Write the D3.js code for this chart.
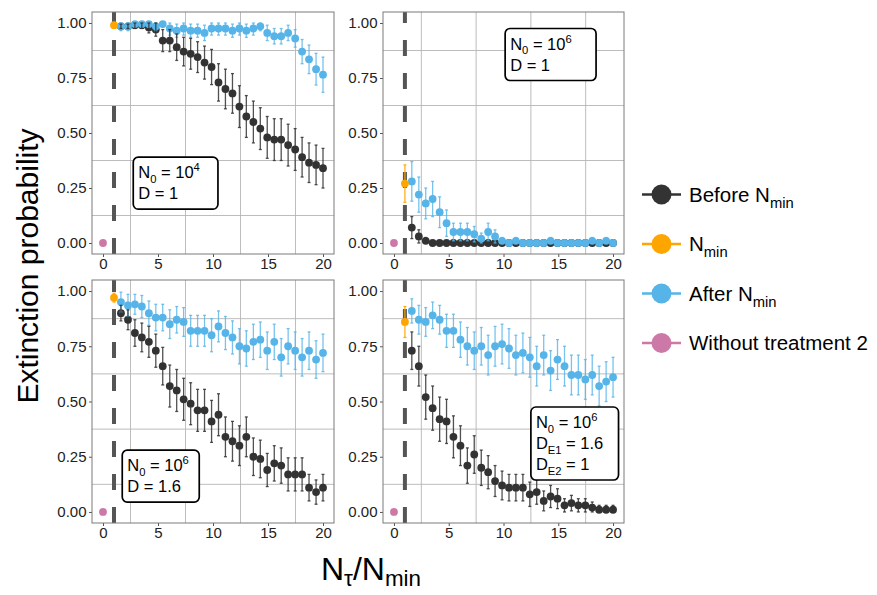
<!DOCTYPE html>
<html>
<head>
<meta charset="utf-8">
<script src="https://cdn.jsdelivr.net/npm/d3@7"></script>
<style>
  body { margin: 0; background: #fff; }
  text { font-family: "Liberation Sans", Arial, sans-serif; }
</style>
</head>
<body>
<svg id="chart" width="877" height="595"></svg>
<script>
// x positions (N_tau / N_min) of the before / after points
const tauRatio = [1.63, 2.27, 2.90, 3.53, 4.17, 4.80, 5.43, 6.07, 6.70, 7.33,
  7.97, 8.60, 9.23, 9.87, 10.50, 11.13, 11.77, 12.40, 13.03, 13.67,
  14.30, 14.93, 15.57, 16.20, 16.83, 17.47, 18.10, 18.73, 19.37, 20.00];
const nminX = 1;
const controlX = 0;
const xTicks = [0, 5, 10, 15, 20];
const yTicks = [0, 0.25, 0.5, 0.75, 1];
const xGrid = [2.5, 7.5, 12.5, 17.5];
const yGrid = [0.125, 0.375, 0.625, 0.875];

// panel 1: N0 = 1e4, D = 1
const p1Before = [0.985, 0.985, 0.99, 0.99, 0.98, 0.97, 0.92, 0.92, 0.89, 0.87, 0.86, 0.845, 0.82, 0.80, 0.73,
  0.70, 0.68, 0.62, 0.575, 0.55, 0.52, 0.48, 0.47, 0.47, 0.445, 0.425, 0.39, 0.365, 0.355, 0.34];
const p1BeforeErr = [0.01, 0.01, 0.015, 0.015, 0.025, 0.03, 0.05, 0.05, 0.06, 0.065, 0.07, 0.07, 0.075, 0.08, 0.085,
  0.09, 0.09, 0.095, 0.095, 0.095, 0.095, 0.095, 0.095, 0.095, 0.095, 0.095, 0.09, 0.09, 0.09, 0.09];
const p1After = [0.985, 0.985, 0.995, 0.995, 0.995, 0.985, 0.995, 0.975, 0.965, 0.975, 0.965, 0.965, 0.955, 0.975, 0.975,
  0.975, 0.965, 0.975, 0.965, 0.975, 0.985, 0.955, 0.94, 0.94, 0.955, 0.93, 0.87, 0.835, 0.79, 0.765];
const p1AfterErr = [0.02, 0.02, 0.015, 0.015, 0.015, 0.02, 0.015, 0.03, 0.03, 0.03, 0.03, 0.03, 0.035, 0.03, 0.03,
  0.03, 0.03, 0.03, 0.03, 0.03, 0.02, 0.035, 0.035, 0.035, 0.035, 0.04, 0.055, 0.065, 0.072, 0.08];

// panel 2: N0 = 1e6, D = 1
const p2Before = [0.07, 0.03, 0.01, 0, 0, 0, 0, 0, 0, 0, 0, 0, 0, 0, 0,
  0, 0, 0, 0, 0, 0, 0, 0, 0, 0, 0, 0, 0, 0, 0];
const p2BeforeErr = [0.05, 0.03, 0.015, 0, 0, 0, 0, 0, 0, 0, 0, 0, 0, 0, 0,
  0, 0, 0, 0, 0, 0, 0, 0, 0, 0, 0, 0, 0, 0, 0];
const p2After = [0.28, 0.22, 0.18, 0.20, 0.14, 0.09, 0.05, 0.05, 0.05, 0.04, 0.02, 0.05, 0.03, 0.01, 0,
  0.01, 0, 0, 0, 0, 0.01, 0, 0, 0, 0, 0, 0.01, 0, 0.01, 0];
const p2AfterErr = [0.09, 0.08, 0.07, 0.08, 0.07, 0.06, 0.04, 0.04, 0.04, 0.035, 0.025, 0.04, 0.03, 0.015, 0,
  0.015, 0, 0, 0, 0, 0.015, 0, 0, 0, 0, 0, 0.015, 0, 0.015, 0];

// panel 3: N0 = 1e6, D = 1.6
const p3Before = [0.90, 0.87, 0.81, 0.79, 0.77, 0.73, 0.66, 0.57, 0.55, 0.51, 0.49, 0.46, 0.46, 0.41, 0.44,
  0.34, 0.32, 0.30, 0.34, 0.25, 0.24, 0.19, 0.22, 0.21, 0.17, 0.17, 0.17, 0.11, 0.09, 0.11];
const p3BeforeErr = [0.035, 0.045, 0.06, 0.065, 0.07, 0.075, 0.085, 0.095, 0.095, 0.095, 0.095, 0.095, 0.095, 0.095, 0.095,
  0.09, 0.09, 0.09, 0.09, 0.085, 0.085, 0.075, 0.08, 0.08, 0.075, 0.075, 0.075, 0.06, 0.055, 0.06];
const p3After = [0.95, 0.935, 0.94, 0.93, 0.90, 0.88, 0.88, 0.85, 0.87, 0.86, 0.82, 0.82, 0.82, 0.80, 0.84,
  0.81, 0.79, 0.75, 0.74, 0.77, 0.78, 0.73, 0.77, 0.70, 0.75, 0.73, 0.70, 0.73, 0.69, 0.72];
const p3AfterErr = [0.045, 0.05, 0.045, 0.05, 0.055, 0.06, 0.06, 0.065, 0.06, 0.065, 0.07, 0.07, 0.07, 0.075, 0.07,
  0.075, 0.075, 0.08, 0.08, 0.08, 0.08, 0.085, 0.08, 0.085, 0.08, 0.085, 0.085, 0.085, 0.085, 0.085];

// panel 4: N0 = 1e6, DE1 = 1.6, DE2 = 1
const p4Before = [0.73, 0.66, 0.52, 0.47, 0.42, 0.41, 0.34, 0.30, 0.21, 0.26, 0.20, 0.18, 0.14, 0.12, 0.11,
  0.11, 0.11, 0.08, 0.09, 0.05, 0.07, 0.06, 0.03, 0.04, 0.03, 0.03, 0.02, 0.01, 0.01, 0.01];
const p4BeforeErr = [0.085, 0.09, 0.1, 0.1, 0.1, 0.1, 0.095, 0.09, 0.08, 0.085, 0.08, 0.075, 0.07, 0.065, 0.06,
  0.06, 0.06, 0.055, 0.055, 0.045, 0.05, 0.045, 0.03, 0.035, 0.03, 0.03, 0.025, 0.02, 0.02, 0.02];
const p4After = [0.91, 0.87, 0.86, 0.89, 0.87, 0.82, 0.82, 0.78, 0.75, 0.73, 0.75, 0.71, 0.75, 0.76, 0.74,
  0.71, 0.72, 0.70, 0.66, 0.71, 0.64, 0.69, 0.66, 0.62, 0.62, 0.60, 0.62, 0.57, 0.59, 0.61];
const p4AfterErr = [0.055, 0.065, 0.065, 0.06, 0.065, 0.075, 0.075, 0.08, 0.085, 0.085, 0.085, 0.09, 0.09, 0.09, 0.09,
  0.09, 0.09, 0.09, 0.09, 0.09, 0.09, 0.09, 0.09, 0.09, 0.09, 0.09, 0.09, 0.09, 0.09, 0.09];

// N_min point and control (no treatment 2) per panel
const nminValues = [0.99, 0.27, 0.97, 0.86];
const nminErrors = [0.01, 0.085, 0.02, 0.07];
const controlValues = [0, 0, 0, 0];

// annotation labels
const panelLabels = [
  [[{t: 'N'}, {t: '0', sub: true}, {t: ' = 10'}, {t: '4', sup: true}], [{t: 'D = 1'}]],
  [[{t: 'N'}, {t: '0', sub: true}, {t: ' = 10'}, {t: '6', sup: true}], [{t: 'D = 1'}]],
  [[{t: 'N'}, {t: '0', sub: true}, {t: ' = 10'}, {t: '6', sup: true}], [{t: 'D = 1.6'}]],
  [[{t: 'N'}, {t: '0', sub: true}, {t: ' = 10'}, {t: '6', sup: true}],
   [{t: 'D'}, {t: 'E1', sub: true}, {t: ' = 1.6'}],
   [{t: 'D'}, {t: 'E2', sub: true}, {t: ' = 1'}]]
];
// label box: left, top, right in data units
const labelBoxes = [[2.75, 0.39, 10.45], [10.15, 0.975, 18.45], [1.75, 0.28, 8.75], [12.5, 0.475, 20.5]];

const legendLabels = [
  [{t: 'Before N'}, {t: 'min', sub: true}],
  [{t: 'N'}, {t: 'min', sub: true}],
  [{t: 'After N'}, {t: 'min', sub: true}],
  [{t: 'Without treatment 2'}]
];
const COLORS = { before: '#333333', nmin: '#FFA500', after: '#56B4E9', control: '#CC79A7' };
const legendColors = [COLORS.before, COLORS.nmin, COLORS.after, COLORS.control];

const panels = [
  { before: p1Before, beforeErr: p1BeforeErr, after: p1After, afterErr: p1AfterErr },
  { before: p2Before, beforeErr: p2BeforeErr, after: p2After, afterErr: p2AfterErr },
  { before: p3Before, beforeErr: p3BeforeErr, after: p3After, afterErr: p3AfterErr },
  { before: p4Before, beforeErr: p4BeforeErr, after: p4After, afterErr: p4AfterErr }
];
const boxes = [
  { left: 92, right: 334, top: 12, bottom: 254 },
  { left: 383, right: 624, top: 12, bottom: 254 },
  { left: 92, right: 334, top: 280, bottom: 523 },
  { left: 383, right: 624, top: 280, bottom: 523 }
];

const svg = d3.select('#chart');

// writes text with sub/superscript parts
function richText(sel, x, y, parts, size, subScale, subShift) {
  const t = sel.append('text').attr('x', x).attr('y', y)
    .attr('font-size', size).attr('fill', '#000');
  let shift = 0;
  parts.forEach(p => {
    const off = p.sub ? size * (subShift || 0.3) : p.sup ? -size * 0.42 : 0;
    t.append('tspan')
      .attr('dy', off - shift)
      .attr('font-size', (p.sub || p.sup) ? size * (subScale || 0.7) : size)
      .text(p.t);
    shift = off;
  });
  return t;
}

panels.forEach((pd, i) => {
  const b = boxes[i];
  const x = d3.scaleLinear().domain([-1, 21]).range([b.left, b.right]);
  const y = d3.scaleLinear().domain([-0.05, 1.05]).range([b.bottom, b.top]);
  const g = svg.append('g');

  // minor grid
  g.append('g').selectAll('line').data(xGrid).join('line')
    .attr('x1', d => x(d)).attr('x2', d => x(d))
    .attr('y1', b.top).attr('y2', b.bottom)
    .attr('stroke', '#b5b5b5').attr('stroke-width', 0.9);
  g.append('g').selectAll('line').data(yGrid).join('line')
    .attr('x1', b.left).attr('x2', b.right)
    .attr('y1', d => y(d)).attr('y2', d => y(d))
    .attr('stroke', '#b5b5b5').attr('stroke-width', 0.9);

  // axes
  const xa = g.append('g').attr('transform', `translate(0,${b.bottom})`)
    .call(d3.axisBottom(x).tickValues(xTicks).tickSize(3).tickPadding(1.5));
  const ya = g.append('g').attr('transform', `translate(${b.left},0)`)
    .call(d3.axisLeft(y).tickValues(yTicks).tickSize(3).tickPadding(2.5).tickFormat(d3.format('.2f')));
  [xa, ya].forEach(a => {
    a.select('.domain').remove();
    a.selectAll('line').attr('stroke', '#555');
    a.selectAll('text').attr('font-size', 15).attr('fill', '#222')
      .attr('font-family', '"Liberation Sans", Arial, sans-serif');
  });

  // N_min reference line
  g.append('line')
    .attr('x1', x(nminX)).attr('x2', x(nminX))
    .attr('y1', b.bottom).attr('y2', b.top)
    .attr('stroke', '#555').attr('stroke-width', 4)
    .attr('stroke-dasharray', '16,17');

  const beforePts = tauRatio.map((t, k) => ({ x: t, y: pd.before[k], e: pd.beforeErr[k] }));
  const afterPts = tauRatio.map((t, k) => ({ x: t, y: pd.after[k], e: pd.afterErr[k] }));
  const nminPts = [{ x: nminX, y: nminValues[i], e: nminErrors[i] }];
  const ctrlPts = [{ x: controlX, y: controlValues[i], e: 0 }];

  const drawPoints = (data, color) => g.append('g').selectAll('circle').data(data).join('circle')
    .attr('cx', d => x(d.x)).attr('cy', d => y(d.y)).attr('r', 3.9).attr('fill', color);
  const drawBars = (data, color, op) => {
    const eg = g.append('g').attr('stroke', color).attr('stroke-opacity', op).attr('stroke-width', 1.3);
    const bars = data.filter(d => d.e > 0);
    const lo = d => y(Math.max(0, d.y - d.e));
    const hi = d => y(Math.min(1, d.y + d.e));
    eg.selectAll('line.v').data(bars).join('line').attr('class', 'v')
      .attr('x1', d => x(d.x)).attr('x2', d => x(d.x))
      .attr('y1', lo).attr('y2', hi);
    eg.selectAll('line.lo').data(bars).join('line').attr('class', 'lo')
      .attr('x1', d => x(d.x) - 1.5).attr('x2', d => x(d.x) + 1.5)
      .attr('y1', lo).attr('y2', lo);
    eg.selectAll('line.hi').data(bars).join('line').attr('class', 'hi')
      .attr('x1', d => x(d.x) - 1.5).attr('x2', d => x(d.x) + 1.5)
      .attr('y1', hi).attr('y2', hi);
  };

  drawPoints(beforePts, COLORS.before);
  drawPoints(afterPts, COLORS.after);
  drawPoints(nminPts, COLORS.nmin);
  drawPoints(ctrlPts, COLORS.control);
  drawBars(afterPts, COLORS.after, 0.8);
  drawBars(beforePts, COLORS.before, 0.85);
  drawBars(nminPts, COLORS.nmin, 0.9);

  // panel border
  g.append('rect')
    .attr('x', b.left).attr('y', b.top)
    .attr('width', b.right - b.left).attr('height', b.bottom - b.top)
    .attr('fill', 'none').attr('stroke', '#7a7a7a').attr('stroke-width', 1);

  // annotation label
  const lb = labelBoxes[i];
  const lx = x(lb[0]), ly = y(lb[1]);
  const lg = g.append('g');
  lg.append('rect')
    .attr('x', lx).attr('y', ly)
    .attr('width', x(lb[2]) - lx).attr('height', panelLabels[i].length * 21 + 10)
    .attr('rx', 5).attr('fill', '#fff')
    .attr('stroke', '#000').attr('stroke-width', 1.7);
  panelLabels[i].forEach((parts, li) => richText(lg, lx + 5, ly + 21 + li * 21, parts, 16.5, 0.68));
});

// axis titles
svg.append('text')
  .attr('transform', 'translate(38,266) rotate(-90)')
  .attr('text-anchor', 'middle').attr('font-size', 30).attr('fill', '#000')
  .text('Extinction probability');

const xt = richText(svg, 0, 580, [{t: 'N'}, {t: 'τ', sub: true}, {t: '/'}, {t: 'N'}, {t: 'min', sub: true}], 32, 0.7, 0.2);
const xtw = xt.node().getComputedTextLength();
xt.attr('x', 371 - xtw / 2);

// legend
const lgd = svg.append('g');
legendLabels.forEach((parts, k) => {
  const cy = 194.5 + k * 49.5;
  lgd.append('line').attr('x1', 642).attr('x2', 681).attr('y1', cy).attr('y2', cy)
    .attr('stroke', legendColors[k]).attr('stroke-width', 2.5);
  lgd.append('circle').attr('cx', 661.5).attr('cy', cy).attr('r', 10).attr('fill', legendColors[k]);
  richText(lgd, 689, cy + 7, parts, 20.5, 0.72);
});
</script>
</body>
</html>
